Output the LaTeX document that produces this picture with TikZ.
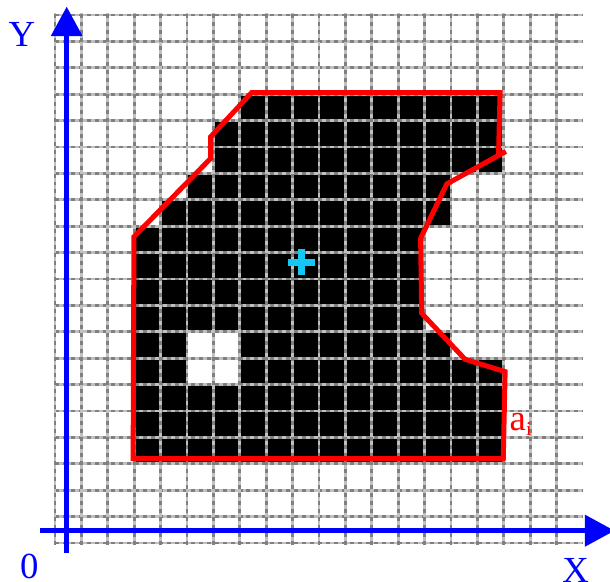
\documentclass[tikz,border=0pt]{standalone}
\usepackage{fontspec}
\setmainfont{Liberation Serif}
\usetikzlibrary{arrows.meta}
\definecolor{griddark}{RGB}{128,128,128}
\definecolor{gridlight}{RGB}{192,192,192}
\definecolor{markcyan}{RGB}{20,200,245}
\tikzset{gridline/.style={line width=1.6pt, gridlight, postaction={draw=griddark, dash pattern=on 2.15pt off 2.15pt}},
         cell/.style={fill=black},
         outline/.style={red, line width=2.7pt},
         axis/.style={blue, line width=3pt, -{Triangle[length=16pt,width=16.4pt]}},
         lbl/.style={font=\fontsize{19.8}{24}\selectfont, inner sep=0pt},
         crossmark/.style={markcyan, line width=3.8pt}}
\newcommand{\sublabel}[2]{#1\raisebox{-2.7pt}{\fontsize{10.5}{12}\selectfont #2}}

\begin{document}
\begin{tikzpicture}[scale=0.5]
   \useasboundingbox (-2.083,-1.477) rectangle (21.023,20.568);
   % black cells
   \fill[cell] ( 7,16) rectangle (17,17);
   \fill[cell] ( 6,14) rectangle (17,16);
   \fill[cell] ( 5,13) rectangle (15,14);
   \fill[cell] ( 4,12) rectangle (15,13);
   \fill[cell] ( 3, 8) rectangle (14,12);
   \fill[cell] ( 3, 7) rectangle (15, 8);
   \fill[cell] ( 3, 3) rectangle (17, 7);
   \fill[white] ( 5, 6) rectangle ( 7, 8);
   % grid
   \draw[gridline] (0, 0) -- (19.95, 0);
   \draw[gridline] (0, 1) -- (19.95, 1);
   \draw[gridline] (0, 2) -- (19.95, 2);
   \draw[gridline] (0, 3) -- (19.95, 3);
   \draw[gridline] (0, 4) -- (19.95, 4);
   \draw[gridline] (0, 5) -- (19.95, 5);
   \draw[gridline] (0, 6) -- (19.95, 6);
   \draw[gridline] (0, 7) -- (19.95, 7);
   \draw[gridline] (0, 8) -- (19.95, 8);
   \draw[gridline] (0, 9) -- (19.95, 9);
   \draw[gridline] (0,10) -- (19.95,10);
   \draw[gridline] (0,11) -- (19.95,11);
   \draw[gridline] (0,12) -- (19.95,12);
   \draw[gridline] (0,13) -- (19.95,13);
   \draw[gridline] (0,14) -- (19.95,14);
   \draw[gridline] (0,15) -- (19.95,15);
   \draw[gridline] (0,16) -- (19.95,16);
   \draw[gridline] (0,17) -- (19.95,17);
   \draw[gridline] (0,18) -- (19.95,18);
   \draw[gridline] (0,19) -- (19.95,19);
   \draw[gridline] (0,20) -- (19.95,20);
   \draw[gridline] ( 0,-0.06) -- ( 0,20.06);
   \draw[gridline] ( 1,-0.06) -- ( 1,20.06);
   \draw[gridline] ( 2,-0.06) -- ( 2,20.06);
   \draw[gridline] ( 3,-0.06) -- ( 3,20.06);
   \draw[gridline] ( 4,-0.06) -- ( 4,20.06);
   \draw[gridline] ( 5,-0.06) -- ( 5,20.06);
   \draw[gridline] ( 6,-0.06) -- ( 6,20.06);
   \draw[gridline] ( 7,-0.06) -- ( 7,20.06);
   \draw[gridline] ( 8,-0.06) -- ( 8,20.06);
   \draw[gridline] ( 9,-0.06) -- ( 9,20.06);
   \draw[gridline] (10,-0.06) -- (10,20.06);
   \draw[gridline] (11,-0.06) -- (11,20.06);
   \draw[gridline] (12,-0.06) -- (12,20.06);
   \draw[gridline] (13,-0.06) -- (13,20.06);
   \draw[gridline] (14,-0.06) -- (14,20.06);
   \draw[gridline] (15,-0.06) -- (15,20.06);
   \draw[gridline] (16,-0.06) -- (16,20.06);
   \draw[gridline] (17,-0.06) -- (17,20.06);
   \draw[gridline] (18,-0.06) -- (18,20.06);
   \draw[gridline] (19,-0.06) -- (19,20.06);
   % region boundary
   \draw[outline] (7.45,17.06) -- (5.90,15.39) -- (5.90,14.57) -- (2.99,11.60)
                  -- (2.96, 3.20) -- (16.98, 3.20) -- (17.05, 6.49) -- (15.53, 6.96)
                  -- (13.89, 8.70) -- (13.85,11.54) -- (14.84,13.60) -- (16.80,14.68)
                  -- (16.86,17.06) -- cycle;
   \draw[outline] (16.80,14.68) -- (17.08,14.83);
   % axes
   \coordinate (yfoot) at ( 0.443,-0.38);
   \coordinate (ytip)  at ( 0.443,20.32);
   \coordinate (xfoot) at (-0.57, 0.466);
   \coordinate (xtip)  at (21.20, 0.466);
   \draw[axis] (yfoot) -- (ytip);
   \draw[axis] (xfoot) -- (xtip);
   % centre mark
   \draw[crossmark] (8.84,10.64) -- (9.85,10.64) (9.34,10.15) -- (9.34,11.12);
   % labels
   \node[lbl,blue] (ylabel) at (-1.25,19.25) {Y};
   \node[lbl,blue] (origin) at (-0.97,-0.88) {0};
   \node[lbl,blue] (xlabel) at (19.72,-1.03) {X};
   \node[lbl,red,anchor=base west] (edgelabel) at (17.21,4.28) {\sublabel{a}{i}};
\end{tikzpicture}
\end{document}
